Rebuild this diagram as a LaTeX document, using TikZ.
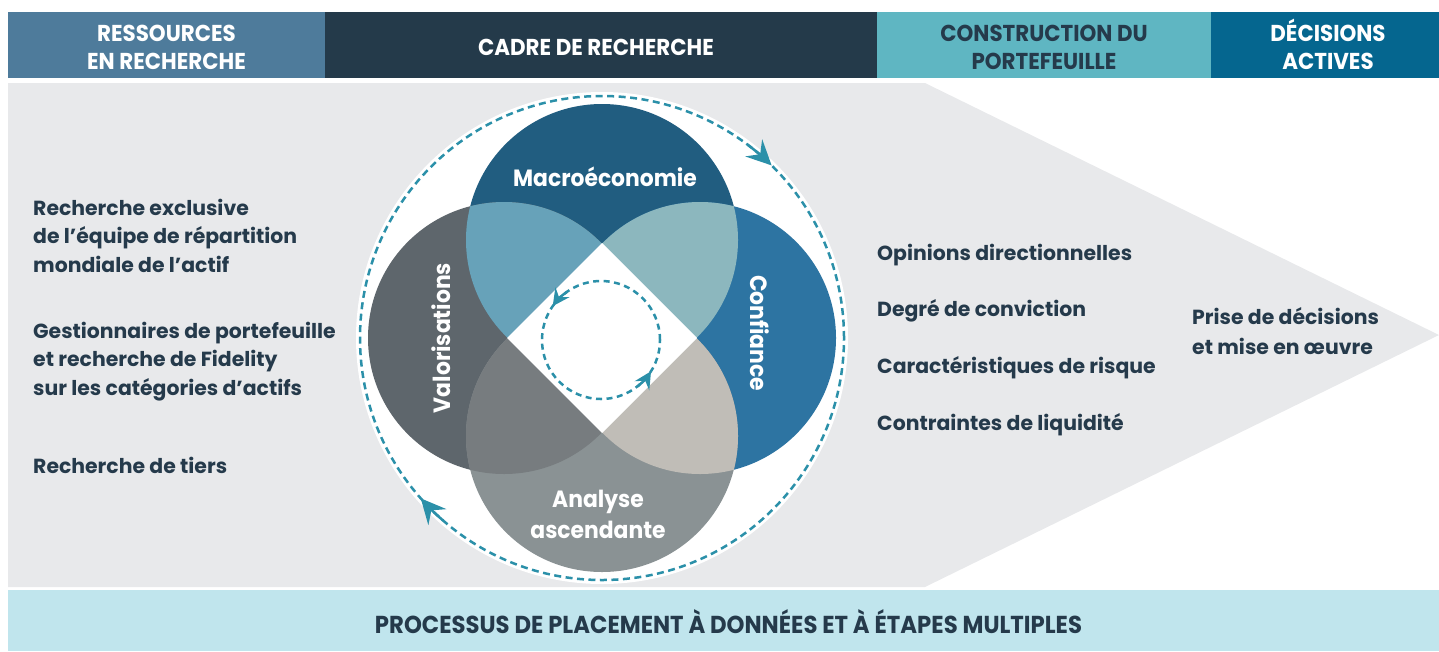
\documentclass[tikz,border=0pt]{standalone}
\usepackage{fontspec}
\setmainfont{Poppins}
\newfontfamily\hdrfont{Poppins}[FakeStretch=0.93]
\usetikzlibrary{arrows.meta,calc}
\definecolor{hdrA}{HTML}{4E7B9B}
\definecolor{hdrB}{HTML}{243A4A}
\definecolor{hdrC}{HTML}{5FB6C2}
\definecolor{hdrD}{HTML}{05668F}
\definecolor{bggray}{HTML}{E8E9EB}
\definecolor{bandblue}{HTML}{C0E5ED}
\definecolor{txtdark}{HTML}{253A4B}
\definecolor{ringteal}{HTML}{2B90A9}
\definecolor{cTop}{HTML}{215D80}
\definecolor{cLeft}{HTML}{5E666C}
\definecolor{cRight}{HTML}{2D74A2}
\definecolor{cBottom}{HTML}{8A9294}
\definecolor{lensTL}{HTML}{67A2B9}
\definecolor{lensTR}{HTML}{8CB7BE}
\definecolor{lensBL}{HTML}{777C7F}
\definecolor{lensBR}{HTML}{C0BDB7}
\begin{document}
\begin{tikzpicture}[x=1pt,y=-1pt,
  hdrbox/.style={minimum height=66pt, inner sep=0pt, outer sep=0pt},
  hdrtext/.style={font=\hdrfont\bfseries\fontsize{23}{28}\selectfont, align=center, text=white, inner sep=0pt, anchor=base},
  bodytext/.style={font=\bfseries\fontsize{20.4}{28.5}\selectfont, text=txtdark, align=left, inner sep=0pt, anchor=base west},
  lbl/.style={font=\hdrfont\bfseries\fontsize{23.5}{31}\selectfont, text=white, inner sep=0pt},
  dashring/.style={draw=ringteal, line width=2.5pt, dash pattern=on 7pt off 4.5pt},
  ringarrow/.style={draw=ringteal, line width=2.5pt, -{Stealth[length=25pt,width=24pt,inset=9pt]}},
  smallarrow/.style={draw=ringteal, line width=2.5pt, -{Stealth[length=17pt,width=17pt,inset=6pt]}}
]
\useasboundingbox (0,0) rectangle (1439,651);
% header
\node[hdrbox, fill=hdrA, minimum width=317pt] (h1) at (166.5,45) {};
\node[hdrbox, fill=hdrB, minimum width=552pt] (h2) at (601,45) {};
\node[hdrbox, fill=hdrC, minimum width=334pt] (h3) at (1044,45) {};
\node[hdrbox, fill=hdrD, minimum width=228pt] (h4) at (1325,45) {};
\node[hdrtext] (t1) at (166.5,69) {RESSOURCES\\EN RECHERCHE};
\node[hdrtext] (t2) at (596,55) {CADRE DE RECHERCHE};
\node[hdrtext, text=txtdark] (t3) at (1044,69) {CONSTRUCTION DU\\PORTEFEUILLE};
\node[hdrtext] (t4) at (1328,69) {DÉCISIONS\\ACTIVES};
% grey arrow area
\fill[bggray] (8,83) -- (925,83) -- (1439,335) -- (925,587) -- (8,587) -- cycle;
% bottom band
\node[hdrbox, fill=bandblue, minimum width=1431pt, minimum height=61pt] (band) at (723.5,620.5) {};
\node[hdrtext, text=txtdark, font=\hdrfont\bfseries\fontsize{24.5}{28}\selectfont] (bandtext) at (728.5,633) {PROCESSUS DE PLACEMENT À DONNÉES ET À ÉTAPES MULTIPLES};
% circles
\coordinate (C) at (602,338);
\coordinate (cT) at (602,240);
\coordinate (cL) at (504,338);
\coordinate (cR) at (700,338);
\coordinate (cB) at (602,436);
\fill[white] (C) circle[radius=246pt];
\fill[cTop] (cT) circle[radius=136pt];
\fill[cLeft] (cL) circle[radius=136pt];
\fill[cRight] (cR) circle[radius=136pt];
\fill[cBottom] (cB) circle[radius=136pt];
\begin{scope}\clip (cT) circle[radius=136pt]; \fill[lensTL] (cL) circle[radius=136pt];\end{scope}
\begin{scope}\clip (cT) circle[radius=136pt]; \fill[lensTR] (cR) circle[radius=136pt];\end{scope}
\begin{scope}\clip (cB) circle[radius=136pt]; \fill[lensBL] (cL) circle[radius=136pt];\end{scope}
\begin{scope}\clip (cB) circle[radius=136pt]; \fill[lensBR] (cR) circle[radius=136pt];\end{scope}
\fill[white] (507,338) -- (602,243) -- (697,338) -- (602,433) -- cycle;
% outer ring
\draw[dashring] (C) circle[radius=242pt];
\draw[ringarrow] ($(C)+(53:242pt)$) arc[start angle=53, end angle=45.5, radius=242pt];
\draw[ringarrow] ($(C)+(229:242pt)$) arc[start angle=229, end angle=221.5, radius=242pt];
% inner ring
\coordinate (Ci) at (601,340);
\draw[dashring, dash pattern=on 6pt off 4.5pt] (Ci) circle[radius=59pt];
\draw[smallarrow] ($(Ci)+(125:59pt)$) arc[start angle=125, end angle=145, radius=59pt];
\draw[smallarrow] ($(Ci)+(308:59pt)$) arc[start angle=308, end angle=328, radius=59pt];
% circle labels
\node[lbl] (macro) at (605,177) {Macroéconomie};
\node[lbl, rotate=90] (valo) at (441,338) {Valorisations};
\node[lbl, rotate=-90] (conf) at (760,333) {Confiance};
\node[lbl, align=center] (ana) at (598,514) {Analyse\\ascendante};
% left texts
\node[bodytext] (res1) at (33,272) {Recherche exclusive\\de l’équipe de répartition\\mondiale de l’actif};
\node[bodytext] (res2) at (33,395) {Gestionnaires de portefeuille\\et recherche de Fidelity\\sur les catégories d’actifs};
\node[bodytext] (res3) at (33,473) {Recherche de tiers};
% right texts
\node[bodytext] (pc1) at (877,260) {Opinions directionnelles};
\node[bodytext] (pc2) at (877,316) {Degré de conviction};
\node[bodytext] (pc3) at (877,373) {Caractéristiques de risque};
\node[bodytext] (pc4) at (877,430) {Contraintes de liquidité};
\node[bodytext, font=\bfseries\fontsize{20.4}{29.5}\selectfont] (dec) at (1192,354) {Prise de décisions\\et mise en œuvre};
\end{tikzpicture}
\end{document}
